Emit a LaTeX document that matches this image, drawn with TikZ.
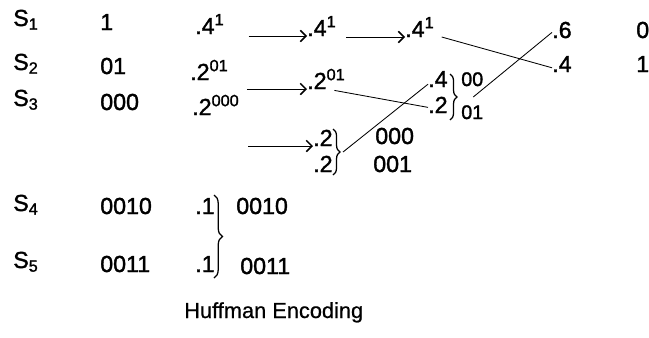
\documentclass[tikz,border=0pt]{standalone}
\usepackage{fontspec}
\setmainfont{Liberation Sans}
\usetikzlibrary{decorations.pathreplacing,arrows.meta}

\begin{document}
\begin{tikzpicture}[x=0.025cm,y=-0.025cm,
	lbl/.style={anchor=base west,inner sep=0pt,font=\fontsize{16.5}{18}\selectfont\addfontfeature{FakeBold=1.5}},
	sml/.style={anchor=base west,inner sep=0pt,font=\fontsize{14}{15}\selectfont\addfontfeature{FakeBold=1.5}},
	arr/.style={-{Straight Barb[length=4pt,width=8pt,line width=1.1pt]},line width=0.7pt},
	ln/.style={line width=0.6pt},
	brc/.style={decorate,decoration={brace,amplitude=5pt},line width=0.9pt}]
		\useasboundingbox (0,0) rectangle (649,337);
		\node[lbl] (s1) at (13,26) {S\textsubscript{1}};
		\node[lbl] (c1) at (100,30) {1};
		\node[lbl] (p1) at (195,34) {.4\textsuperscript{1}};
		\node[lbl] (q1) at (307,36) {.4\textsuperscript{1}};
		\node[lbl] (r1) at (405,37) {.4\textsuperscript{1}};
		\node[lbl] (t1) at (552,38) {.6};
		\node[lbl] (t2) at (552,72) {.4};
		\node[lbl] (b1) at (636,38) {0};
		\node[lbl] (b2) at (636,72) {1};
		\node[lbl] (s2) at (13,70) {S\textsubscript{2}};
		\node[lbl] (c2) at (100,74) {01};
		\node[lbl] (p2) at (190,80) {.2\textsuperscript{01}};
		\node[lbl] (q2) at (307,89) {.2\textsuperscript{01}};
		\node[lbl] (u1) at (428,87) {.4};
		\node[lbl] (u2) at (428,113) {.2};
		\node[sml] (v1) at (461,86) {00};
		\node[sml] (v2) at (461,119) {01};
		\node[lbl] (s3) at (13,106) {S\textsubscript{3}};
		\node[lbl] (c3) at (100,110) {000};
		\node[lbl] (p3) at (192,115) {.2\textsuperscript{000}};
		\node[lbl] (q3) at (313,146) {.2};
		\node[lbl] (q4) at (313,172) {.2};
		\node[lbl] (w1) at (375,144) {000};
		\node[lbl] (w2) at (373,172) {001};
		\node[lbl] (s4) at (13,211) {S\textsubscript{4}};
		\node[lbl] (c4) at (100,214) {0010};
		\node[lbl] (p4) at (195,214) {.1};
		\node[lbl] (x4) at (236,214) {0010};
		\node[lbl] (s5) at (13,268) {S\textsubscript{5}};
		\node[lbl] (c5) at (100,272) {0011};
		\node[lbl] (p5) at (195,272) {.1};
		\node[lbl] (x5) at (240,274) {0011};
		\node[anchor=base west,inner sep=0pt,font=\fontsize{15.5}{17}\selectfont\addfontfeature{FakeBold=0.6}] (cap) at (184,318) {Huffman Encoding};
		\draw[brc] (450,74) -- (450,120);
		\draw[brc] (333,129) -- (333,175);
		\draw[brc,decoration={amplitude=6pt}] (214,195) -- (214,278);
		\coordinate (ta) at (462,97);
		\coordinate (tb) at (343,152);
		\draw[arr] ([xshift=17pt]p1.base east |- q1.base west) -- (q1.base west);
		\draw[arr] ([xshift=7pt]q1.base east |- r1.base west) -- (r1.base west);
		\draw[arr] ([xshift=13pt]p2.base east |- q2.base west) -- (q2.base west);
		\draw[arr] ([xshift=6pt]p3.base east |- q3.base west) -- (q3.base west);
		\draw[ln] ([xshift=5pt]r1.base east) -- ([yshift=3pt]t2.base west);
		\draw[ln] ([xshift=8pt]ta) -- ([yshift=4pt]t1.base west);
		\draw[ln] ([xshift=-8pt,yshift=-1pt]q2.base east) -- ([yshift=4pt]u2.base west);
		\draw[ln] (tb) -- ([yshift=2pt]u1.base west);
	\end{tikzpicture}
\end{document}
